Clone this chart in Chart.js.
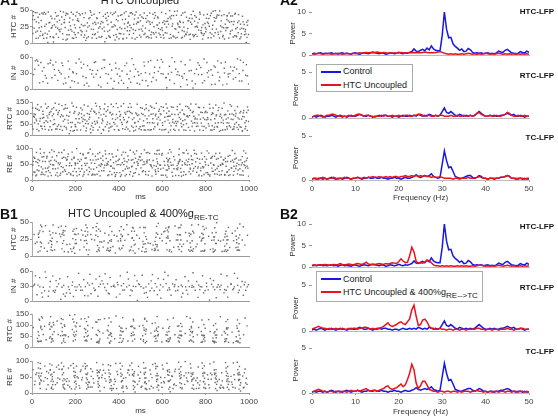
<!DOCTYPE html>
<html>
<head>
<meta charset="utf-8">
<script src="https://cdn.jsdelivr.net/npm/chart.js@4.4.1/dist/chart.umd.min.js"></script>
<style>
  body { margin: 0; background: #fff; }
  #fig { position: relative; width: 558px; height: 416px; overflow: hidden; font-family: "Liberation Sans", Arial, sans-serif; color: #222; }
  #fig canvas { position: absolute; }
  .t { position: absolute; white-space: nowrap; line-height: 1; }
  .t sub { font-size: 8px; vertical-align: -3px; line-height: 1; }
  .leg { position: absolute; border: 1px solid #aaa; background: #fff; box-sizing: border-box; }
  .ln { position: absolute; height: 2px; width: 20px; }
</style>
</head>
<body>
<div id="fig"></div>
<script>
// ---- spectra: frequency grid (Hz) and power values ----
const FREQ = [0,0.5,1,1.5,2,2.5,3,3.5,4,4.5,5,5.5,6,6.5,7,7.5,8,8.5,9,9.5,10,10.5,11,11.5,12,12.5,13,13.5,14,14.5,15,15.5,16,16.5,17,17.5,18,18.5,19,19.5,20,20.5,21,21.5,22,22.5,23,23.5,24,24.5,25,25.5,26,26.5,27,27.5,28,28.5,29,29.5,30,30.5,31,31.5,32,32.5,33,33.5,34,34.5,35,35.5,36,36.5,37,37.5,38,38.5,39,39.5,40,40.5,41,41.5,42,42.5,43,43.5,44,44.5,45,45.5,46,46.5,47,47.5,48,48.5,49,49.5,50];

// Control (blue) – same in A2 and B2
const CTRL_HTC = [0.3,0.4,0.3,0.4,0.5,0.3,0.4,0.3,0.4,0.5, 0.3,0.4,0.2,0.4,0.5,0.3,0.4,0.3,0.2,0.4, 0.5,0.3,0.2,0.4,0.5,0.4,0.3,0.5,0.6,0.5, 0.4,0.3,0.5,0.4,0.2,0.3,0.5,0.4,0.3,0.4, 0.6,0.4,0.3,0.5,0.4,0.6,0.8,1.4,0.9,0.8, 1.1,1.3,1.0,1.6,1.2,2.1,1.4,1.1,1.0,1.0, 4.5,10.0,6.0,4.0,4.1,2.6,2.0,1.6,1.1,1.4, 0.8,0.9,1.5,1.2,0.6,0.4,0.5,0.4,0.5,0.3, 0.4,0.5,0.3,0.4,0.3,0.5,0.9,0.7,0.6,1.1, 1.3,0.9,0.5,0.4,0.3,0.4,0.8,0.6,0.5,0.9, 0.6];
const CTRL_RTC = [0.1,0.2,0.1,0.2,0.3,0.2,0.1,0.2,0.2,0.3, 0.2,0.1,0.2,0.3,0.2,0.2,0.1,0.2,0.3,0.2, 0.2,0.3,0.4,0.3,0.2,0.2,0.3,0.2,0.1,0.2, 0.2,0.3,0.2,0.3,0.3,0.2,0.2,0.1,0.2,0.2, 0.1,0.2,0.3,0.2,0.2,0.3,0.2,0.3,0.2,0.4, 0.3,0.2,0.3,0.2,0.4,0.3,0.2,0.3,0.2,0.3, 0.7,1.1,0.6,0.5,0.7,0.5,0.3,0.2,0.4,0.3, 0.2,0.3,0.2,0.3,0.2,0.3,0.5,0.7,0.5,0.3, 0.2,0.2,0.3,0.2,0.3,0.2,0.2,0.3,0.3,0.4, 0.5,0.4,0.3,0.4,0.2,0.2,0.3,0.2,0.1,0.2, 0.2];
const CTRL_TC = [0.1,0.2,0.1,0.2,0.2,0.1,0.2,0.1,0.2,0.3, 0.2,0.1,0.2,0.2,0.1,0.2,0.3,0.2,0.1,0.2, 0.2,0.3,0.2,0.1,0.2,0.2,0.3,0.2,0.2,0.3, 0.2,0.2,0.3,0.2,0.2,0.1,0.2,0.2,0.3,0.2, 0.2,0.1,0.2,0.3,0.2,0.2,0.3,0.4,0.6,0.4, 0.3,0.4,0.5,0.4,0.5,0.7,0.4,0.3,0.2,0.3, 1.8,3.3,2.2,1.4,1.5,1.0,0.4,0.3,0.2,0.2, 0.3,0.4,0.5,0.5,0.3,0.2,0.3,0.5,0.4,0.2, 0.2,0.1,0.2,0.2,0.1,0.2,0.2,0.3,0.3,0.4, 0.5,0.4,0.2,0.2,0.1,0.2,0.2,0.1,0.2,0.1, 0.1];

// HTC Uncoupled (red, A2)
const UNC_HTC = [0.3,0.2,0.3,0.4,0.3,0.2,0.3,0.4,0.3,0.2, 0.3,0.3,0.4,0.3,0.2,0.3,0.4,0.3,0.3,0.4, 0.3,0.4,0.5,0.4,0.5,0.6,0.5,0.6,0.7,0.6, 0.7,0.6,0.5,0.6,0.5,0.4,0.5,0.4,0.5,0.4, 0.5,0.6,0.5,0.4,0.5,0.6,0.5,0.6,0.5,0.6, 0.5,0.6,0.7,0.6,0.5,0.6,0.5,0.6,0.7,0.8, 0.6,0.4,0.3,0.2,0.3,0.2,0.3,0.2,0.2,0.3, 0.2,0.3,0.4,0.3,0.2,0.3,0.2,0.3,0.2,0.3, 0.4,0.3,0.2,0.3,0.2,0.3,0.4,0.3,0.2,0.3, 0.2,0.3,0.2,0.3,0.2,0.3,0.2,0.3,0.2,0.3, 0.2];
const UNC_RTC = [0.1,0.2,0.3,0.3,0.2,0.1,0.2,0.3,0.3,0.4, 0.4,0.3,0.2,0.2,0.1,0.2,0.2,0.3,0.2,0.2, 0.3,0.4,0.4,0.3,0.2,0.3,0.3,0.2,0.2,0.1, 0.2,0.2,0.3,0.2,0.3,0.2,0.2,0.3,0.2,0.2, 0.3,0.2,0.2,0.3,0.3,0.2,0.2,0.3,0.3,0.4, 0.4,0.3,0.2,0.3,0.3,0.2,0.2,0.3,0.2,0.3, 0.3,0.2,0.2,0.2,0.3,0.2,0.2,0.3,0.2,0.2, 0.3,0.2,0.2,0.3,0.2,0.3,0.5,0.6,0.4,0.3, 0.2,0.2,0.3,0.2,0.2,0.3,0.2,0.2,0.3,0.4, 0.6,0.5,0.3,0.2,0.2,0.3,0.2,0.2,0.3,0.2, 0.2];
const UNC_TC = [0.1,0.2,0.2,0.1,0.2,0.3,0.2,0.1,0.2,0.2, 0.3,0.2,0.1,0.2,0.2,0.3,0.2,0.2,0.1,0.2, 0.2,0.3,0.2,0.2,0.3,0.2,0.3,0.3,0.4,0.3, 0.3,0.4,0.3,0.3,0.4,0.3,0.4,0.3,0.4,0.4, 0.3,0.4,0.4,0.5,0.4,0.4,0.5,0.4,0.5,0.4, 0.5,0.4,0.5,0.4,0.4,0.3,0.4,0.3,0.3,0.4, 0.3,0.2,0.2,0.2,0.2,0.1,0.2,0.2,0.1,0.2, 0.2,0.2,0.3,0.2,0.2,0.2,0.3,0.4,0.3,0.2, 0.2,0.1,0.2,0.2,0.2,0.2,0.2,0.3,0.3,0.4, 0.5,0.4,0.2,0.2,0.2,0.1,0.2,0.2,0.1,0.2, 0.2];

// HTC Uncoupled & 400% g RE->TC (red, B2)
const G400_HTC = [0.4,0.5,0.4,0.5,0.4,0.5,0.6,0.5,0.4,0.5, 0.6,0.5,0.6,0.8,0.6,0.5,0.6,0.7,0.6,0.5, 0.7,0.8,0.7,0.6,0.8,1.1,0.7,0.6,0.7,0.6, 0.7,0.8,0.7,0.6,0.8,0.7,0.8,1.0,0.9,0.8, 1.3,1.9,1.4,1.0,1.1,2.6,4.6,3.5,1.3,0.9, 1.0,0.9,1.2,1.5,1.5,1.0,0.5,0.3,0.3,0.2, 0.3,0.2,0.3,0.2,0.3,0.2,0.2,0.3,0.2,0.3, 0.2,0.3,0.2,0.2,0.3,0.2,0.3,0.4,0.4,0.3, 0.2,0.3,0.2,0.3,0.2,0.3,0.4,0.3,0.2,0.3, 0.4,0.3,0.2,0.3,0.2,0.2,0.3,0.2,0.3,0.2, 0.3];
const G400_RTC = [0.2,0.3,0.4,0.5,0.4,0.3,0.3,0.2,0.3,0.2, 0.2,0.3,0.2,0.2,0.3,0.2,0.2,0.3,0.2,0.3, 0.3,0.2,0.3,0.3,0.4,0.4,0.3,0.2,0.3,0.2, 0.3,0.3,0.4,0.5,0.7,0.9,0.6,0.5,0.6,0.7, 0.9,1.0,0.8,0.7,1.0,1.3,2.3,2.8,1.6,0.6, 0.7,1.2,1.3,1.0,0.5,0.3,0.3,0.2,0.2,0.3, 0.2,0.2,0.1,0.2,0.2,0.1,0.2,0.2,0.1,0.2, 0.2,0.1,0.2,0.2,0.2,0.2,0.3,0.3,0.2,0.2, 0.1,0.2,0.2,0.1,0.2,0.2,0.1,0.2,0.2,0.2, 0.3,0.2,0.2,0.1,0.2,0.2,0.3,0.3,0.2,0.2, 0.2];
const G400_TC = [0.1,0.2,0.3,0.4,0.3,0.2,0.2,0.1,0.2,0.2, 0.1,0.2,0.2,0.1,0.2,0.2,0.1,0.2,0.3,0.2, 0.2,0.3,0.2,0.3,0.4,0.5,0.3,0.2,0.3,0.3, 0.2,0.3,0.4,0.5,0.7,0.8,0.5,0.4,0.5,0.6, 0.8,1.0,0.7,0.9,1.5,2.2,3.2,2.6,1.1,0.5, 0.8,1.3,1.3,0.9,0.4,0.3,0.2,0.2,0.1,0.2, 0.2,0.1,0.2,0.2,0.1,0.2,0.2,0.1,0.2,0.1, 0.2,0.2,0.2,0.1,0.2,0.2,0.3,0.2,0.2,0.1, 0.2,0.1,0.2,0.1,0.2,0.2,0.1,0.2,0.2,0.1, 0.2,0.2,0.1,0.2,0.2,0.1,0.2,0.2,0.1,0.2, 0.1];

// ---- rasters: each spike "TTTNN" = time in ms, neuron as % of the population ----
const A1_HTC = `00271 00683 01045 01592 01914 02536 02878 03161 03722 04449
05288 05793 06130 06657 07302 07861 08419 08945 09274 09718
10355 10892 11227 11664 12083 12540 13196 13779 14311 14862
15347 15709 16125 16588 17263 17941 18436 18870 19214 19655
20182 20793 21331 21566 22047 22724 23289 23917 24453 24808
25136 25561 26274 26898 27342 27715 28159 28687 29228 29876
30333 30745 31192 31658 32220 32981 33436 33604 34175 34792
35281 35839 36117 36563 37349 37890 38452 38726 39118 39667
40229 40884 41343 41771 42012 42658 43395 43937 44260 44681
45154 45746 46388 46829 47273 47512 48094 48663 49341 49885
50218 50679 51152 51791 52345 52863 53420 53916 54264 54557
55133 55787 56249 56692 57318 57854 58176 58530 59241 59793
60362 60815 61157 61689 62230 62774 63498 63826 64115 64651
65283 65796 66342 66917 67160 67532 68248 68884 69317 69762
70135 70593 71278 71844 72425 72911 73163 73657 74396 74823
75249 75778 76120 76561 77393 77938 78247 78612 79185 79759
80342 80887 81216 81574 82131 82690 83354 83821 84266 84598
85179 85733 86415 86952 87267 87648 88123 88586 89338 89871
90246 90715 91163 91682 92339 92856 93422 93790 94121 94647
95286 95813 96157 96528 97364 97925 98441 98702 99117 99568
00148 00429 00795 01271 01733 02064 02392 02915 03346 03587 04035 04268 04691 04923
05027 05414 05951 06388 06815 07127 07594 07936 08262 08781 09146 09452 09903
10016 10573 10948 11381 11845 12217 12769 12935 13442 13657 14128 14594 14971
15062 15584 15890 16312 16839 17125 17476 17752 18193 18615 19087 19432 19925
20046 20417 20968 21173 21789 22285 22538 22856 23134 23652 24077 24324 24691
25215 25748 26019 26452 26777 27193 27584 27926 28341 28825 29063 29457 29714
30074 30561 30918 31349 31817 32065 32443 32762 33248 33887 34314 34568 34935
35056 35422 35718 36291 36848 37186 37623 37955 38309 38594 38971 39341 39782
40113 40547 40928 41486 41914 42327 42591 42844 43172 43615 44049 44463 44826
45037 45391 45892 46115 46641 46957 47485 47738 48258 48417 48976 49163 49624
50067 50442 50936 51375 51626 52129 52474 52718 53183 53567 54038 54391 54825
55015 55462 55931 56327 56475 56983 57132 57655 57979 58344 58761 59025 59417 59946
60138 60524 60967 61431 61865 62048 62566 62957 63214 63679 64073 64383 64858
65021 65419 65943 66215 66684 67097 67356 67849 68166 68463 68915 69238 69591
70048 70321 70827 71126 71533 71967 72268 72675 73027 73486 73874 74125 74519 74966
75083 75426 75951 76248 76839 77172 77587 78031 78329 78855 79023 79428 79947
80134 80475 80963 81359 81751 82283 82516 82927 83142 83596 83977 84431 84875
85042 85385 85926 86184 86597 87035 87483 87919 88346 88712 89157 89546 89982
90083 90567 90891 91328 91536 92065 92482 92718 93165 93587 93943 94319 94862
95031 95467 95942 96318 96745 97081 97543 97856 98235 98627 98963 99354 99826`;

const A1_IN = `01588 02291 03074 04183 05567 06142 07479 08690 09235 10361 11084 12852 13547 14273 15619 16938 17705 18426 19051 20381
21794 22866 23540 24112 25673 26209 27958 28437 29385 30712 31806 32264 33591 34148 35877 36433 37302 38765 39919 40540
41227 42873 43681 44104 45356 46095 47762 48518 49243 50927 51684 52351 53410 54789 55123 56568 57890 58255 59692 60447
61836 62104 63371 64598 65785 66262 67943 68507 69140 70676 71329 72891 73458 74203 75862 76745 77174 78619 79394 80851
81237 82560 83972 84415 85688 86326 87913 88750 89184 90447 91569 92831 93268 94794 95625 96190 97483 98876 99341
00745 01362 02687 03519 04856 05123 06634 07218 08481 09775 10643 11927 12358 13881 14516 15234 16787 17362 18854 19623
20548 21219 22684 23877 24935 25318 26861 27547 28783 29646 30258 31537 32891 33467 34818 35246 36759 37924 38581 39347
40163 41556 42218 43846 44732 45521 46876 47239 48854 49615 50348 51872 52526 53685 54247 55836 56451 57328 58867 59548
60284 61635 62847 63528 64352 65617 66845 67254 68786 69534 70248 71613 72457 73825 74948 75316 76582 77867 78245 79526
80683 81457 82814 83243 84568 85752 86537 87281 88665 89816 90538 91248 92657 93836 94362 95548 96725 97258 98543 99816`;

const A1_RTC = `00518 00964 01237 01781 02143 02692 03375 03850 04426 04719
05163 05637 06294 06881 07352 07715 08168 08543 09279 09832
10247 10796 11518 11962 12331 12674 13155 13889 14442 14926
15381 15723 16059 16645 17204 17838 18497 18912 19366 19771
20125 20584 21238 21867 22415 22953 23276 23648 24191 24735
25342 25887 26463 26918 27107 27579 28223 28841 29396 29664
30137 30752 31286 31905 32448 32817 33163 33594 34271 34839
35412 35968 36324 36761 37149 37586 38233 38895 39452 39916
40371 40746 41187 41632 42295 42868 43524 43971 44218 44653
45195 45784 46347 46912 47438 47867 48126 48593 49261 49748
50316 50881 51443 51715 52158 52692 53237 53874 54415 54963
55284 55749 56118 56625 57396 57931 58472 58817 59164 59586
60229 60773 61341 61894 62456 62908 63172 63657 64285 64839
65317 65862 66428 66977 67241 67715 68193 68548 69276 69831
70362 70914 71457 71786 72123 72659 73294 73826 74371 74912
75148 75593 76236 76784 77315 77869 78427 78952 79183 79647
80221 80768 81334 81893 82446 82915 83167 83582 84249 84791
85326 85874 86411 86963 87238 87681 88145 88597 89362 89825
90273 90736 91392 91848 92417 92961 93125 93574 94238 94786
95331 95867 96423 96912 97156 97674 98219 98743 99385 99841
00126 00382 00857 01154 01562 01948 02317 02578 02934 03213 03642 04027 04285 04851
05072 05453 05826 06117 06543 06958 07239 07586 07962 08325 08771 09116 09458 09964
10083 10534 10918 11275 11726 12168 12493 12817 13326 13661 14014 14357 14778
15147 15492 15918 16281 16736 17057 17469 17713 18124 18638 19087 19514 19932
20026 20349 20815 21462 21749 22136 22582 22864 23341 23827 24059 24446 24913
25121 25565 25934 26248 26654 27072 27428 27836 28115 28572 28969 29233 29788
30042 30415 30968 31124 31579 31861 32236 32643 33014 33379 33825 34157 34532 34976
35086 35521 35834 36168 36593 36927 37264 37738 38016 38547 38962 39227 39683
40014 40557 40862 41338 41819 42153 42546 42917 43263 43738 44041 44484 44872
45012 45468 45927 46165 46623 47052 47336 47715 48264 48659 48941 49319 49825
50083 50565 50927 51262 51628 51977 52315 52781 53049 53516 53958 54237 54688
55016 55537 55864 56236 56481 56958 57163 57648 58036 58354 58778 59045 59462 59915
60137 60584 60916 61254 61617 62066 62382 62745 63057 63436 63815 64128 64563 64947
65084 65536 65914 66241 66635 67086 67462 67953 68268 68735 69025 69543 69964
70015 70546 70887 71234 71658 71955 72381 72814 73075 73542 73968 74136 74657
75037 75351 75826 76148 76527 76961 77283 77648 78036 78568 78914 79326 79768
80072 80546 80953 81148 81627 82081 82315 82762 83028 83465 83917 84124 84536 84958
85061 85524 85837 86183 86657 87014 87452 87915 88236 88761 89016 89548 89937
90018 90452 90928 91163 91524 91987 92264 92647 93018 93433 93857 94065 94523 94952
95117 95548 95925 96271 96648 97013 97467 97855 98137 98526 98968 99214 99675`;

const A1_RE = `00447 00925 01368 01713 02186 02654 03229 03897 04341 04772
05118 05685 06237 06869 07412 07958 08323 08761 09194 09547
10289 10835 11476 11912 12153 12648 13221 13786 14339 14894
15427 15962 16118 16573 17245 17819 18364 18927 19471 19736
20152 20698 21264 21817 22383 22945 23412 23679 24125 24568
25231 25784 26339 26896 27453 27918 28162 28617 29274 29839
30382 30946 31413 31768 32129 32675 33238 33891 34446 34914
35157 35682 36243 36817 37372 37936 38411 38758 39123 39594
40265 40811 41378 41929 42467 42913 43186 43642 44275 44838
45393 45941 46412 46787 47154 47623 48291 48846 49317 49872
50238 50763 51329 51894 52417 52958 53162 53615 54283 54847
55312 57118 57343 57566 57792 57951 58227 58681 59334 59878
60415 62209 62431 62657 62884 62962 63136 63595 64246 64812
65373 67614 67238 67451 67779 67897 68162 68724 69358 69815
70184 70648 71293 71857 72426 72937 73119 73564 74228 74793
75342 75881 76437 76913 77265 77729 78184 78642 79317 79856
80223 80791 81346 81912 82468 82937 83174 83648 84219 84783
85336 85867 86415 86948 87172 87629 88263 88815 89357 89924
90158 90614 91277 91838 92392 92956 93127 93583 94244 94719
95362 95835 96416 96973 97228 97691 98145 98584 99268 99812
00216 00658 00971 01324 01857 02116 02431 02864 03145 03561 03983 04217 04624 04958
05034 05473 05916 06158 06526 06974 07237 07629 07841 08186 08549 08914 09372 09635
10047 10462 10915 11258 11623 12037 12486 12915 13153 13542 13968 14226 14671
15032 15569 15845 16264 16781 17023 17453 17916 18245 18587 19014 19368 19853
20047 20426 20813 21152 21636 21958 22227 22764 23035 23581 23917 24352 24746
25069 25452 25917 26185 26526 26963 27234 27615 28081 28434 28952 29116 29563
30018 30565 30827 31286 31643 31951 32348 32761 33129 33546 33981 34267 34652
35048 35416 35927 36263 36544 36981 37237 37654 38023 38516 38874 39248 39761
40048 40523 40947 41216 41654 42087 42348 42759 43034 43517 43857 44136 44563
45017 45426 45862 46143 46564 46921 47381 47768 48035 48457 48952 49164 49573
50061 50482 50926 51248 51657 52049 52326 52785 53054 53486 53927 54163 54548
55043 55438 55861 56245 56582 56831 57026 57481 57857 58136 58593 58947 59246 59615
60083 60537 60958 61246 61615 61931 62068 62547 62763 63042 63467 63855 64187 64524
65047 65435 65863 66214 66635 66945 67132 67556 67958 68264 68536 68912 69247 69685
70026 70453 70917 71162 71547 71983 72265 72648 73034 73475 73851 74163 74536
75083 75457 75924 76268 76641 77016 77452 77837 78213 78565 78938 79241 79573
80048 80465 80923 81217 81584 82016 82453 82869 83127 83527 83946 84174 84532
85065 85418 85843 86227 86584 86946 87317 87752 88049 88463 88917 89168 89543
90026 90474 90832 91216 91658 92037 92462 92815 93143 93565 93936 94168 94552
95031 95448 95816 96263 96547 96954 97315 97748 98057 98438 98861 99143 99537`;

const B1_HTC = `02812 03155 03368 03674 03941 04227 04586 01063 06289
08173 08445 08718 08926 09134 09352 09668 11542 12284
13588 13821 14137 14369 14645 14913 15274 16712 17435
18851 19122 19479 19708 19937 20263 20581 22018 22876
24245 24573 24891 25118 25337 25662 25904 27549 28183
29686 29913 30231 30457 30779 31015 31342 32826 33667
35139 35462 35714 35987 36225 36543 36872 38409 39158
40374 40618 40945 41186 41423 41759 42031 43792 44363
45827 46152 46384 46615 46946 47273 47508 49221 49884
51143 51435 51768 51912 52284 52521 52849 54537 55319
56622 56918 57155 57487 57733 57964 58296 60045 60771
61937 62218 62476 62752 62983 63314 63645 65326 65988
67247 67583 67819 68135 68462 68791 69028 70869 71544
72659 72938 73264 73517 73845 74173 74421 76135 76792
78044 78367 78615 78887 79153 79478 79736 81458 82219
83421 83756 84014 84283 84637 84869 85198 86944 87613
88829 89165 89473 89736 89958 90217 90584 92367 92945
94158 94439 94782 94926 95253 95617 95894 97486 98132 99361
01537 02341 02964 03715 04091 04438 05172 05723 07014 07638 08562 09043 09416 09791 10418 11067 12765 13257 13964 14475
14761 15587 16134 17821 18413 18973 19326 19664 20148 20437 21365 22547 23462 24026 24758 25046 25483 25771 26318 27163
28847 29461 29774 30096 30618 30924 31573 32141 33244 34517 34923 35316 35845 36117 36648 37328 37961 39744 40223 40851
41063 41657 42278 42846 44915 45418 45973 46254 46782 47132 47635 48361 49552 50614 51026 51584 52136 52457 52713 53538
55832 56416 56743 57034 57368 57627 58117 58952 59764 61273 61782 62054 62658 62871 63186 63518 64312 66547 67063 67427
67962 68284 68647 68913 69835 72218 72467 72814 73126 73691 74014 74568 75627 77356 77914 78247 78552 78963 79314 79617
80382 82846 83168 83512 83947 84156 84518 84937 85946 88247 88614 88956 89218 89613 89847 90348 91125 93674 94025 94348
94617 95118 95436 95762 96947`;

const B1_IN = `00952 01684 02321 03578 04813 05246 06197 07733 08465 09834 10529 11168 12874 13306 14652 15927 16481 17238 18763 19115
20847 21592 22436 23871 24318 25660 26789 27224 28935 29573 30416 31182 32857 33791 34235 35624 36078 37549 38913 39362
40784 41251 42637 43996 44473 45218 46749 47385 48602 49157 50886 51443 52728 53212 54967 55588 56334 57821 58175 59409
60672 61296 62785 63538 64119 65854 66471 67236 68913 69348 70581 71823 72167 73746 74294 75965 76512 77338 78684 79127
80459 81803 82275 83668 84911 85346 86738 87189 88527 89884 90213 91657 92941 93392 94776 95128 96865 97419 98263 99754
00348 01256 02853 03647 04527 05834 06478 07516 08247 09683 10836 11548 12257 13846 14523 15316 16847 17626 18552 19847
20336 21854 22547 23236 24648 25817 26453 27858 28543 29237 30848 31556 32267 33545 34857 35226 36548 37853 38247 39654
40523 41836 42258 43647 44852 45537 46234 47848 48467 49555 50248 51826 52547 53857 54434 55243 56858 57547 58836 59254
60447 61858 62536 63244 64857 65648 66234 67548 68853 69526 70847 71236 72548 73852 74547 75236 76853 77548 78247 79835
80548 81237 82856 83547 84238 85854 86547 87253 88838 89536 90247 91856 92538 93247 94852 95536 96247 97854 98536 99247`;

const B1_RTC = `02718 02946 03235 03581 03817 04163 04492 04888
08127 08354 08692 08915 09261 09538 09874 10246
13471 13712 14059 14383 14625 14967 15214 15536
18884 19137 19445 19798 20022 20361 20673
24256 24519 24843 25177 25432 25765 26091
29638 29975 30214 30551 30812 31146 31483
34927 35265 35588 35811 36143 36476 36732
40363 40627 40958 41214 41546 41889 42125
45734 45962 46318 46645 46879 47137 47456
51165 51422 51751 52087 52339 52654 52978
56548 56873 57126 57457 57792 58034 58361
61919 62245 62583 62816 63147 63462 63728
67329 67664 67915 68248 68571 68836 69162
72653 72987 73221 73558 73843 74176 74415
78047 78382 78615 78934 79268 79529 79857
83427 83765 84013 84346 84671 84928 85253
88816 89142 89477 89725 89958 90283 90614
94131 94464 94782 95015 95348 95671 95926
00659 05863 06522 11679 12138 16831 17496 22163 22785 27324 27958 32742 33486 38125 38794 43456 44218 49563 50124
54842 55471 59815 60357 65188 65937 70641 71392 76237 76859 81483 82147 86892 87536 92245 92813 97537 98288 99164
02526 03016 03384 03717 04058 04318 04653 05238 07968 08273 08531 08862 09124 09425 09718 10067 13234 13586 13947 14235
14518 14837 15163 15434 18653 19018 19376 19632 19964 20237 20548 24131 24386 24753 25021 25318 25648 25935 29476 29814
30135 30417 30683 31018 31324 34751 35148 35436 35714 36037 36318 36641 40214 40536 40849 41136 41457 41718 42047 45562
45841 46163 46536 46784 47058 47324 51034 51317 51658 51984 52213 52548 52817 56432 56717 57034 57351 57618 57947 58238
61837 62118 62436 62724 63057 63318 63624 67163 67518 67836 68127 68435 68748 69034 72518 72836 73147 73462 73718 74047
74331 77914 78236 78517 78836 79124 79435 79718 83318 83617 83942 84217 84536 84814 85136 88647 89024 89318 89657 89854
90137 90458 94017 94318 94657 94918 95247 95536 95813`;

const B1_RE = `02895 03078 03262 03447 03631 03814 03976 04153 04338
08291 08472 08656 08837 09018 09159 09343 09526 09712
13694 13873 14057 14238 14419 14563 14745 14928 15112
19092 19278 19453 19634 19812 19955 20137 20319 20584
24492 24676 24859 25031 25213 25358 25542 25726 25918
29895 30071 30254 30436 30618 30767 30948 31123 31306
35288 35472 35651 35833 36014 36159 36342 36523 36708
40693 40874 41052 41235 41416 41557 41739 41922 42104
46094 46273 46456 46638 46812 46953 47136 47318 47503
51495 51677 51858 52032 52214 52365 52547 52729 52911
56892 57076 57254 57436 57618 57761 57943 58125 58309
62293 62471 62657 62838 63012 63155 63337 63518 63704
67696 67874 68053 68232 68417 68566 68748 68929 69113
73091 73278 73452 73637 73815 73958 74143 74325 74512
78494 78677 78853 79035 79217 79364 79546 79728 79915
83897 84072 84258 84433 84614 84762 84943 85127 85308
89295 89478 89654 89836 90018 90161 90345 90527 90711
94696 94873 95057 95239 95412 95564 95742 95924 96106
03153 03527 03892 04041 04462 08573 08914 09287 09451 09836
13975 14326 14683 14815 15241 19367 19748 20065 20428 20851
24782 25147 25485 25662 26034 30163 30528 30845 31064 31472
35563 35941 36285 36437 36814 40962 41337 41684 41816 42246
46358 46723 47061 47267 47634 51762 52135 52478 52613 52047
57183 57542 57883 58054 58423 62567 62936 63273 63465 63841
67961 68345 68682 68857 69216 73362 73741 74058 74263 74647
78761 79136 79485 79662 80014 84162 84547 84873 85053 85436
89567 89941 90283 90452 90836 94961 95342 95683 95857 96232
00573 01226 01858 05437 05984 06612 07145 07763 10826 11381 11947 12574 16245 16878 17419 17986 21723 22367 22941 23584
26819 27352 27967 28531 32148 32789 33317 33862 37514 38143 38692 39267 43248 43815 44372 44956 48627 49183 49746 50318
53938 54472 55021 55689 59349 59918 60475 61032 64752 65326 65867 66423 70154 70698 71247 71836 75539 76147 76681 77225
80957 81526 82091 82643 86342 86915 87463 88018 91752 92327 92894 93442 97153 97718 98275 98846
01437 02263 06148 06867 07426 10165 11632 12287 12843 15936 16524 17137 18213 21347 22015 22672 23248 26433 27176 27719
28245 32456 33071 33645 34137 37827 38436 39014 39558 43521 44163 44671 45186 48956 49437 50065 50621 54213 54759 55348
55916 59632 60187 60736 61248 64453 65014 65628 66174 70427 70963 71538 72163 75814 76432 76915 77538 81243 81816 82362
82957 86617 87124 87738 88315 92034 92618 93157 93716 97416 97963 98531 99127`;

const BLUE = '#1818e6';
const RED = '#e8141c';
const FONT = '"Liberation Sans", Arial, sans-serif';
const TICK_FONT = { family: FONT, size: 8 };
const fig = document.getElementById('fig');

function spikes(str, maxN) {
    return str.trim().split(/\s+/).map(tok => ({ x: +tok.slice(0, 3), y: +tok.slice(3) / 100 * maxN }));
}

function toXY(vals) {
    return FREQ.map((f, i) => ({ x: f, y: vals[i] }));
}

const plainTick = v => String(v);

// plot = inner plot box in page pixels; the canvas is sized around it
function makeChart(plot, yAxisW, xAxisH, type, data, scales) {
    const padT = 6, padR = 14;
    const cv = document.createElement('canvas');
    const w = yAxisW + (plot.r - plot.l) + padR;
    const h = padT + (plot.b - plot.t) + xAxisH;
    cv.width = w; cv.height = h;
    cv.style.left = (plot.l - yAxisW) + 'px';
    cv.style.top = (plot.t - padT) + 'px';
    cv.style.width = w + 'px';
    cv.style.height = h + 'px';
    fig.appendChild(cv);

    scales.x.afterFit = s => { s.height = xAxisH; s.paddingLeft = 0; s.paddingRight = 0; };
    scales.y.afterFit = s => { s.width = yAxisW; s.paddingTop = 0; s.paddingBottom = 0; };

    return new Chart(cv, {
        type: type,
        data: data,
        options: {
            responsive: false,
            animation: false,
            devicePixelRatio: 1,
            layout: { padding: { left: 0, top: padT, right: padR, bottom: 0 } },
            plugins: { legend: { display: false }, tooltip: { enabled: false } },
            scales: scales
        }
    });
}

function rasterPanel(str, maxN, step, yTitle, titlePad, plot, bottom, xH) {
    makeChart(plot, 32, bottom ? xH : 6, 'scatter', {
        datasets: [{
            data: spikes(str, maxN),
            pointStyle: 'rect',
            pointRadius: 1.0,
            backgroundColor: '#6a6a6a',
            borderWidth: 0
        }]
    }, {
        x: {
            type: 'linear', min: 0, max: 1000,
            ticks: { display: bottom, stepSize: 200, autoSkip: false, maxRotation: 0, font: TICK_FONT, color: '#444', padding: 2, callback: plainTick },
            grid: { drawOnChartArea: false, drawTicks: bottom, tickLength: 2, color: '#999' },
            border: { display: true, color: '#999' },
            title: { display: bottom, text: 'ms', font: TICK_FONT, color: '#333', padding: 0 }
        },
        y: {
            min: 0, max: maxN,
            ticks: { stepSize: step, autoSkip: false, font: TICK_FONT, color: '#444', padding: 1, callback: plainTick },
            grid: { drawOnChartArea: false, tickLength: 2, color: '#999' },
            border: { display: true, color: '#aaa' },
            title: { display: true, text: yTitle, font: TICK_FONT, color: '#333', padding: { top: titlePad, bottom: 0 } }
        }
    });
}

function spectrumPanel(ctrl, other, maxP, titlePad, plot, bottom, xH) {
    const line = (vals, color) => ({
        data: toXY(vals), borderColor: color, borderWidth: 1.5,
        pointRadius: 0, tension: 0, fill: false
    });
    makeChart(plot, 32, bottom ? xH : 6, 'line', {
        datasets: [line(other, RED), line(ctrl, BLUE)]
    }, {
        x: {
            type: 'linear', min: 0, max: 50,
            ticks: { display: bottom, stepSize: 10, autoSkip: false, maxRotation: 0, font: TICK_FONT, color: '#444', padding: 2, callback: plainTick },
            grid: { drawOnChartArea: false, drawTicks: bottom, tickLength: 2, color: '#999' },
            border: { display: true, color: '#bbb' },
            title: { display: bottom, text: 'Frequency (Hz)', font: TICK_FONT, color: '#333', padding: 0 }
        },
        y: {
            min: 0, max: maxP,
            ticks: { stepSize: 5, autoSkip: false, font: TICK_FONT, color: '#444', padding: 3, callback: plainTick },
            grid: { drawOnChartArea: false, tickLength: 3, color: '#999' },
            border: { display: false },
            title: { display: true, text: 'Power', font: TICK_FONT, color: '#333', padding: { top: titlePad, bottom: 0 } }
        }
    });
}

function txt(html, x, y, size, css) {
    const d = document.createElement('div');
    d.className = 't';
    d.innerHTML = html;
    d.style.left = x + 'px';
    d.style.top = (y - 0.49 * size) + 'px';   // y = centre of capitals
    d.style.fontSize = size + 'px';
    Object.assign(d.style, css || {});
    fig.appendChild(d);
}

function legend(box, entries) {
    const b = document.createElement('div');
    b.className = 'leg';
    Object.assign(b.style, { left: box.l + 'px', top: box.t + 'px', width: (box.r - box.l) + 'px', height: (box.b - box.t) + 'px' });
    fig.appendChild(b);
    entries.forEach(e => {
        const ln = document.createElement('div');
        ln.className = 'ln';
        Object.assign(ln.style, { left: (box.l + 5) + 'px', top: (e.y - 1) + 'px', background: e.color });
        fig.appendChild(ln);
        txt(e.text, box.l + 27, e.y, 9, { color: '#222' });
    });
}

// ---- left column: rasters ----
rasterPanel(A1_HTC, 50, 25, 'HTC #', 9, { l: 32, t: 10, r: 249, b: 43 }, false);
rasterPanel(A1_IN, 60, 30, 'IN #', 9, { l: 32, t: 57, r: 249, b: 89 }, false);
rasterPanel(A1_RTC, 150, 50, 'RTC #', 5, { l: 32, t: 102, r: 249, b: 135 }, false);
rasterPanel(A1_RE, 100, 50, 'RE #', 5, { l: 32, t: 148, r: 249, b: 180 }, true, 22);

rasterPanel(B1_HTC, 50, 25, 'HTC #', 9, { l: 32, t: 222, r: 249, b: 256 }, false);
rasterPanel(B1_IN, 60, 30, 'IN #', 9, { l: 32, t: 271, r: 249, b: 301 }, false);
rasterPanel(B1_RTC, 150, 50, 'RTC #', 5, { l: 32, t: 314, r: 249, b: 347 }, false);
rasterPanel(B1_RE, 100, 50, 'RE #', 5, { l: 32, t: 361, r: 249, b: 393 }, true, 23);

// ---- right column: spectra ----
spectrumPanel(CTRL_HTC, UNC_HTC, 10, 8, { l: 312, t: 12, r: 529, b: 55 }, false);
spectrumPanel(CTRL_RTC, UNC_RTC, 5, 11, { l: 312, t: 72, r: 529, b: 118 }, false);
spectrumPanel(CTRL_TC, UNC_TC, 5, 11, { l: 312, t: 136, r: 529, b: 180 }, true, 23);

spectrumPanel(CTRL_HTC, G400_HTC, 10, 8, { l: 312, t: 224, r: 529, b: 267 }, false);
spectrumPanel(CTRL_RTC, G400_RTC, 5, 11, { l: 312, t: 285, r: 529, b: 331 }, false);
spectrumPanel(CTRL_TC, G400_TC, 5, 11, { l: 312, t: 348, r: 529, b: 393 }, true, 24);

// ---- text ----
const bold = { fontWeight: 'bold', color: '#111' };
txt('A1', 0, 0.3, 14, bold);
txt('A2', 280, 0.3, 14, bold);
txt('B1', 0, 213.5, 14, bold);
txt('B2', 280, 213.5, 14, bold);
txt('HTC Uncoupled', 140, 0, 11, { transform: 'translateX(-50%)' });
txt('HTC Uncoupled &amp; 400%g<sub>RE-TC</sub>', 68, 213, 11);

const right = { fontWeight: 'bold', color: '#111', transform: 'translateX(-100%)' };
txt('HTC-LFP', 554, 12, 8, right);
txt('RTC-LFP', 554, 76, 8, right);
txt('TC-LFP', 554, 138, 8, right);
txt('HTC-LFP', 554, 227, 8, right);
txt('RTC-LFP', 554, 288, 8, right);
txt('TC-LFP', 554, 352, 8, right);

legend({ l: 316, t: 64, r: 413, b: 92 }, [
    { text: 'Control', color: BLUE, y: 71.5 },
    { text: 'HTC Uncoupled', color: RED, y: 85 }
]);
legend({ l: 316, t: 271, r: 483, b: 302 }, [
    { text: 'Control', color: BLUE, y: 279 },
    { text: 'HTC Uncoupled &amp; 400%g<sub>RE--&gt;TC</sub>', color: RED, y: 292 }
]);
</script>
</body>
</html>
